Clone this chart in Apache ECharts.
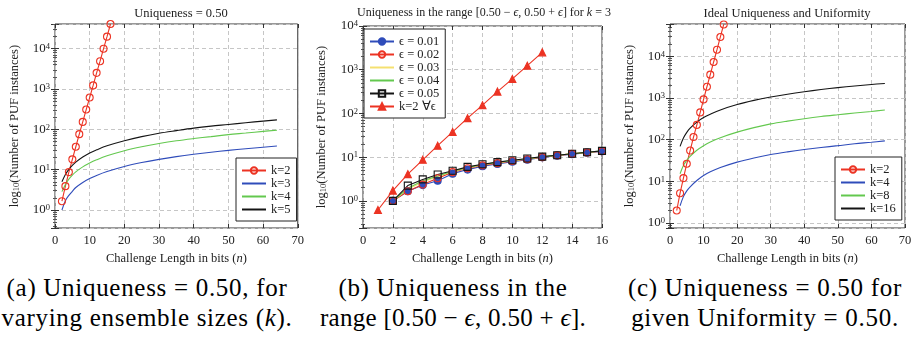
<!DOCTYPE html>
<html>
<head>
<meta charset="utf-8">
<script src="https://cdn.jsdelivr.net/npm/echarts@6/dist/echarts.min.js"></script>
<style>
  body { margin: 0; background: #fff; }
  .wrap { position: relative; width: 923px; height: 346px; overflow: hidden; }
  .panel { position: absolute; top: 0; height: 270px; }
  .caption {
    position: absolute; top: 273px; width: 310px;
    font-family: 'Liberation Serif', serif;
    font-size: 25px; letter-spacing: 0.7px; line-height: 30px; text-align: center; color: #000; white-space: nowrap;
  }
</style>
</head>
<body>
<div class="wrap">
  <div id="chartA" class="panel" style="left:0;width:307px"></div>
  <div id="chartB" class="panel" style="left:307px;width:314px"></div>
  <div id="chartC" class="panel" style="left:615px;width:308px"></div>
  <div class="caption" style="left:-8px">(a) Uniqueness = 0.50, for<br>varying ensemble sizes (<i>k</i>).</div>
  <div class="caption" style="left:298px">(b) Uniqueness in the<br><span style="letter-spacing:0.3px">range [0.50 − <i>ϵ</i>, 0.50 + <i>ϵ</i>].</span></div>
  <div class="caption" style="left:610px">(c) Uniqueness = 0.50 for<br>given Uniformity = 0.50.</div>
</div>
<script>
// ---- panel (a): uniqueness 0.50, varying k ----
const nA2 = [2, 3, 4, 5, 6, 7, 8, 9, 10, 11, 12, 13, 14, 15, 16]
const aK2 = [1.65, 3.9, 8.7, 18, 37, 76, 153, 310, 615, 1230, 2520, 4900, 10000, 19900, 41000]
const nACurve = [2, 3, 4, 5, 6, 8, 10, 12, 15, 20, 25, 30, 35, 40, 45, 50, 55, 60, 64]
const aK3 = [1.0, 1.7, 2.3, 2.9, 3.6, 4.8, 6.0, 7.2, 9.0, 12, 15, 18, 21, 24, 27, 30, 33, 36, 38.5]
const aK4 = [2.85, 4.3, 5.8, 7.3, 8.8, 11.7, 14.6, 17.5, 22, 29.5, 37, 44.5, 52, 59, 66, 74, 81, 89, 95]
const aK5 = [5.0, 7.6, 10.2, 12.8, 15.4, 20.6, 26, 31, 39, 52, 66, 80, 93, 107, 120, 132, 146, 160, 172]

// ---- panel (b): uniqueness in [0.50-eps, 0.50+eps], k = 3 ----
const nB = [2, 3, 4, 5, 6, 7, 8, 9, 10, 11, 12, 13, 14, 15, 16]
const bE01 = [1.0, 1.66, 2.3, 2.9, 4.2, 5.2, 6.2, 7.0, 7.9, 8.7, 9.9, 10.8, 11.7, 12.7, 13.6]
const bE02 = [1.0, 1.66, 2.36, 3.3, 4.55, 5.6, 6.5, 7.3, 8.2, 9.0, 10.0, 11.0, 11.9, 12.8, 13.7]
const bE03 = [1.0, 1.85, 2.7, 3.6, 4.7, 5.7, 6.7, 7.5, 8.3, 9.1, 10.1, 11.0, 12.0, 12.9, 13.8]
const bE04 = [1.0, 1.95, 2.9, 3.7, 4.75, 5.8, 6.8, 7.6, 8.4, 9.2, 10.2, 11.1, 12.0, 13.0, 13.9]
const bE05 = [1.0, 2.24, 3.1, 4.0, 4.9, 6.0, 6.9, 7.7, 8.5, 9.3, 10.3, 11.1, 12.0, 13.0, 13.9]
const nBK2 = [1, 2, 3, 4, 5, 6, 7, 8, 9, 10, 11, 12]
const bK2 = [0.62, 1.72, 4.1, 8.7, 18.3, 37.8, 78, 155, 316, 616, 1240, 2500]

// ---- panel (c): ideal uniqueness and uniformity ----
const nC2 = [2, 3, 4, 5, 6, 7, 8, 9, 10, 11, 12, 13, 14, 15, 16]
const cK2 = [2.0, 5.2, 12, 26.5, 55, 116, 227, 453, 930, 1870, 3650, 7350, 14500, 29300, 58500]
const nCCurve = [3, 4, 5, 6, 8, 10, 12, 15, 20, 25, 30, 35, 40, 45, 50, 55, 60, 64]
const cK4 = [2.6, 4.3, 5.9, 7.4, 10.5, 13.8, 17, 21.5, 29, 36.5, 44, 51, 58, 65, 72, 80, 87, 94]
const cK8 = [15.3, 24, 32, 40, 56, 72, 88, 112, 152, 195, 240, 280, 320, 360, 398, 438, 478, 516]
const cK16 = [69, 110, 150, 190, 265, 340, 410, 520, 700, 880, 1060, 1240, 1420, 1600, 1780, 1950, 2120, 2240]

const FONT = 'Liberation Serif'
const INK = '#222'
const RED = '#ec3323'
const BLUE = '#2f4cba'
const GREEN = '#63c84e'
const YELLOW = '#f5e070'
const BLACK = '#141414'
const GRID_LINE = { lineStyle: { type: [4, 3], color: '#c6c6c6', width: 1 } }
const TICK = { inside: true, length: 4, lineStyle: { color: '#333' } }
const MINOR = { show: true, splitNumber: 9, length: 2, lineStyle: { color: '#555' } }

function pairs(xs, ys) {
  return xs.map((x, i) => [x, ys[i]])
}

function curve(name, xs, ys, color, smooth) {
  return {
    name, type: 'line', data: pairs(xs, ys), smooth: smooth ? 0.35 : false, showSymbol: false, symbol: 'none',
    clip: false, lineStyle: { color, width: 1.1 }, itemStyle: { color }
  }
}

function marked(name, xs, ys, color, symbol, filled) {
  return {
    name, type: 'line', data: pairs(xs, ys), symbol, symbolSize: 7,
    clip: false, lineStyle: { color, width: 1.1 },
    itemStyle: { color: filled ? color : 'rgba(255,255,255,0)', borderColor: color, borderWidth: 1.1 }
  }
}

function supLabel(v) {
  return '10{sup|' + Math.round(Math.log10(v)) + '}'
}

function buildOption(p) {
  return {
    animation: false,
    textStyle: { fontFamily: FONT },
    title: {
      text: p.title, left: p.titleX, top: 2, textAlign: 'center',
      textStyle: { fontFamily: FONT, fontSize: p.titleSize, fontWeight: 'normal', color: INK,
        rich: { i: { fontFamily: FONT, fontSize: p.titleSize, fontStyle: 'italic', color: INK } } }
    },
    grid: { left: p.left, top: p.top, width: p.width, height: p.height, show: true, borderColor: '#333', borderWidth: 1 },
    legend: {
      orient: 'vertical', left: p.legendX, top: p.legendY, itemWidth: 24, itemHeight: 8, itemGap: 0,
      padding: [6, 6, 5, 5], backgroundColor: '#fff', borderColor: INK, borderWidth: 1, borderRadius: 0,
      textStyle: { fontFamily: FONT, fontSize: 12.5, color: INK },
      // lines without marks get no symbol in the legend
      data: p.series.map(s => s.symbol === 'none' ? { name: s.name, itemStyle: { opacity: 0 } } : { name: s.name })
    },
    xAxis: [
      {
        type: 'value', min: p.xmin, max: p.xmax, interval: p.xstep,
        name: 'Challenge Length in bits ({i|n})', nameLocation: 'middle', nameGap: 23,
        nameTextStyle: { fontFamily: FONT, fontSize: 12.5, color: INK,
          rich: { i: { fontFamily: FONT, fontSize: 12.5, fontStyle: 'italic', color: INK } } },
        axisLine: { show: false }, axisTick: TICK, splitLine: GRID_LINE,
        axisLabel: { fontFamily: FONT, fontSize: 12.5, color: INK, margin: 6 }
      },
      {
        type: 'value', position: 'top', min: p.xmin, max: p.xmax, interval: p.xstep,
        axisLine: { show: false }, axisTick: TICK, splitLine: { show: false }, axisLabel: { show: false }
      }
    ],
    yAxis: [
      {
        type: 'log', logBase: 10, min: p.ymin, max: p.ymax,
        name: 'log{sub|10}(Number of PUF instances)', nameLocation: 'middle', nameGap: p.nameGap, nameRotate: 90,
        nameTextStyle: { fontFamily: FONT, fontSize: 12.5, color: INK,
          rich: { sub: { fontFamily: FONT, fontSize: 8.5, verticalAlign: 'bottom', color: INK } } },
        axisLine: { show: false }, axisTick: TICK, minorTick: MINOR,
        splitLine: GRID_LINE,
        axisLabel: {
          formatter: supLabel, showMinLabel: p.showMin, showMaxLabel: p.showMax, margin: 5,
          fontFamily: FONT, fontSize: 13, color: INK,
          rich: { sup: { fontFamily: FONT, fontSize: 8.5, verticalAlign: 'top', color: INK } }
        }
      },
      {
        type: 'log', logBase: 10, min: p.ymin, max: p.ymax, position: 'right',
        axisLine: { show: false }, axisTick: TICK, minorTick: MINOR,
        splitLine: { show: false }, axisLabel: { show: false }
      }
    ],
    series: p.series
  }
}

const optionA = buildOption({
  title: 'Uniqueness = 0.50', titleX: 176, titleSize: 12.5,
  left: 53, top: 24, width: 245, height: 204,
  xmin: 0, xmax: 70, xstep: 10,
  ymin: 0.357, ymax: 41000, showMin: false, showMax: false, nameGap: 34,
  legendX: 236, legendY: 158,
  series: [
    marked('k=2', nA2, aK2, RED, 'circle', false),
    curve('k=3', nACurve, aK3, BLUE, true),
    curve('k=4', nACurve, aK4, GREEN, true),
    curve('k=5', nACurve, aK5, BLACK, true)
  ]
})

const optionB = buildOption({
  title: 'Uniqueness in the range [0.50 − {i|ϵ}, 0.50 + {i|ϵ}] for {i|k} = 3', titleX: 172, titleSize: 12,
  left: 48, top: 26, width: 247, height: 202,
  xmin: 0, xmax: 16, xstep: 2,
  ymin: 0.24, ymax: 10000, showMin: false, showMax: true, nameGap: 35,
  legendX: 57, legendY: 29,
  series: [
    marked('ϵ = 0.01', nB, bE01, BLUE, 'circle', true),
    marked('ϵ = 0.02', nB, bE02, RED, 'circle', false),
    curve('ϵ = 0.03', nB, bE03, YELLOW, false),
    curve('ϵ = 0.04', nB, bE04, GREEN, false),
    marked('ϵ = 0.05', nB, bE05, BLACK, 'rect', false),
    marked('k=2 ∀ϵ', nBK2, bK2, RED, 'triangle', true)
  ]
})

const optionC = buildOption({
  title: 'Ideal Uniqueness and Uniformity', titleX: 167, titleSize: 12.5,
  left: 44, top: 24, width: 246, height: 204,
  xmin: 0, xmax: 70, xstep: 10,
  ymin: 0.76, ymax: 60000, showMin: false, showMax: false, nameGap: 34,
  legendX: 220, legendY: 157,
  series: [
    marked('k=2', nC2, cK2, RED, 'circle', false),
    curve('k=4', nCCurve, cK4, BLUE, true),
    curve('k=8', nCCurve, cK8, GREEN, true),
    curve('k=16', nCCurve, cK16, BLACK, true)
  ]
})

const chartA = echarts.init(document.getElementById('chartA'))
chartA.setOption(optionA)
const chartB = echarts.init(document.getElementById('chartB'))
chartB.setOption(optionB)
const chartC = echarts.init(document.getElementById('chartC'))
chartC.setOption(optionC)
</script>
</body>
</html>
